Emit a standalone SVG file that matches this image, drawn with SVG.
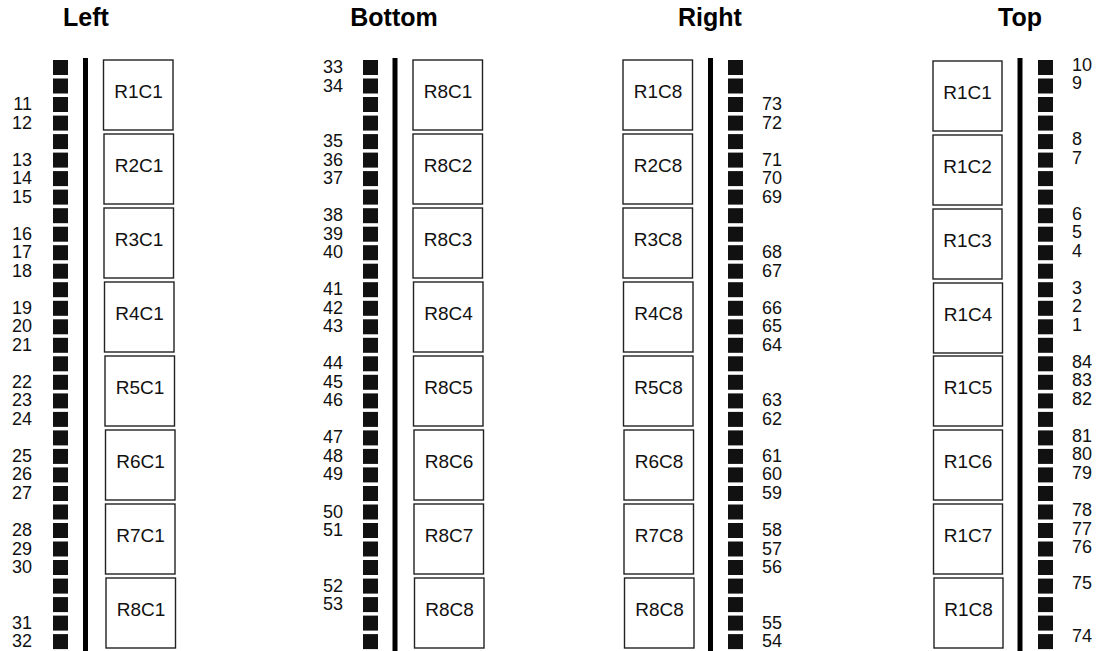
<svg xmlns="http://www.w3.org/2000/svg" xmlns:xlink="http://www.w3.org/1999/xlink" width="1102" height="651" viewBox="0 0 1102 651">
<style>
.title{font-family:"Liberation Sans",Arial,sans-serif;font-weight:bold;font-size:25px;fill:#000;text-anchor:middle}
.box{fill:#fff;stroke:#222;stroke-width:1.4}
.bl{font-family:"Liberation Sans",Arial,sans-serif;font-size:19px;fill:#111;text-anchor:middle}
.num{font-family:"Liberation Sans",Arial,sans-serif;font-size:18px;fill:#111}
.e{text-anchor:end}
.s{text-anchor:start}
.bar{fill:#000}
.sq{fill:#111}
</style>
<defs>
<g id="col" class="sq">
<rect x="0" y="60" width="15" height="15"/>
<rect x="0" y="78.5" width="15" height="15"/>
<rect x="0" y="97" width="15" height="15"/>
<rect x="0" y="115.6" width="15" height="15"/>
<rect x="0" y="134.1" width="15" height="15"/>
<rect x="0" y="152.6" width="15" height="15"/>
<rect x="0" y="171.1" width="15" height="15"/>
<rect x="0" y="189.6" width="15" height="15"/>
<rect x="0" y="208.2" width="15" height="15"/>
<rect x="0" y="226.7" width="15" height="15"/>
<rect x="0" y="245.2" width="15" height="15"/>
<rect x="0" y="263.7" width="15" height="15"/>
<rect x="0" y="282.2" width="15" height="15"/>
<rect x="0" y="300.8" width="15" height="15"/>
<rect x="0" y="319.3" width="15" height="15"/>
<rect x="0" y="337.8" width="15" height="15"/>
<rect x="0" y="356.3" width="15" height="15"/>
<rect x="0" y="374.8" width="15" height="15"/>
<rect x="0" y="393.4" width="15" height="15"/>
<rect x="0" y="411.9" width="15" height="15"/>
<rect x="0" y="430.4" width="15" height="15"/>
<rect x="0" y="448.9" width="15" height="15"/>
<rect x="0" y="467.4" width="15" height="15"/>
<rect x="0" y="486" width="15" height="15"/>
<rect x="0" y="504.5" width="15" height="15"/>
<rect x="0" y="523" width="15" height="15"/>
<rect x="0" y="541.5" width="15" height="15"/>
<rect x="0" y="560" width="15" height="15"/>
<rect x="0" y="578.6" width="15" height="15"/>
<rect x="0" y="597.1" width="15" height="15"/>
<rect x="0" y="615.6" width="15" height="15"/>
<rect x="0" y="634.1" width="15" height="15"/>
</g>
</defs>
<rect width="1102" height="651" fill="#fff"/>

<g id="panel-left">
<text class="title" x="86" y="26">Left</text>
<use href="#col" xlink:href="#col" x="53"/>
<rect class="bar" x="83" y="58" width="5" height="593"/>
<g id="left-R1C1"><rect class="box" x="103.5" y="60" width="69.5" height="70"/><text class="bl" x="138.5" y="98">R1C1</text></g>
<g id="left-R2C1"><rect class="box" x="104" y="134" width="69.5" height="70"/><text class="bl" x="139" y="172">R2C1</text></g>
<g id="left-R3C1"><rect class="box" x="104" y="208" width="69.5" height="70"/><text class="bl" x="139" y="246">R3C1</text></g>
<g id="left-R4C1"><rect class="box" x="104.5" y="282" width="69.5" height="70"/><text class="bl" x="139.5" y="320">R4C1</text></g>
<g id="left-R5C1"><rect class="box" x="105" y="356" width="69.5" height="70"/><text class="bl" x="140" y="394">R5C1</text></g>
<g id="left-R6C1"><rect class="box" x="105.5" y="430" width="69.5" height="70"/><text class="bl" x="140.5" y="468">R6C1</text></g>
<g id="left-R7C1"><rect class="box" x="105.5" y="504" width="69.5" height="70"/><text class="bl" x="140.5" y="542">R7C1</text></g>
<g id="left-R8C1"><rect class="box" x="106" y="578" width="69.5" height="70"/><text class="bl" x="141" y="616">R8C1</text></g>
<g class="num e">
<text x="32" y="110">11</text>
<text x="32" y="128.6">12</text>
<text x="32" y="165.6">13</text>
<text x="32" y="184.1">14</text>
<text x="32" y="202.6">15</text>
<text x="32" y="239.7">16</text>
<text x="32" y="258.2">17</text>
<text x="32" y="276.7">18</text>
<text x="32" y="313.8">19</text>
<text x="32" y="332.3">20</text>
<text x="32" y="350.8">21</text>
<text x="32" y="387.8">22</text>
<text x="32" y="406.4">23</text>
<text x="32" y="424.9">24</text>
<text x="32" y="461.9">25</text>
<text x="32" y="480.4">26</text>
<text x="32" y="499">27</text>
<text x="32" y="536">28</text>
<text x="32" y="554.5">29</text>
<text x="32" y="573">30</text>
<text x="32" y="628.6">31</text>
<text x="32" y="647">32</text>
</g>
</g>

<g id="panel-bottom">
<text class="title" x="394" y="26">Bottom</text>
<use href="#col" xlink:href="#col" x="363"/>
<rect class="bar" x="392.5" y="58" width="5" height="593"/>
<g id="bottom-R8C1"><rect class="box" x="413" y="60" width="69.5" height="70"/><text class="bl" x="448" y="98">R8C1</text></g>
<g id="bottom-R8C2"><rect class="box" x="413" y="134" width="69.5" height="70"/><text class="bl" x="448" y="172">R8C2</text></g>
<g id="bottom-R8C3"><rect class="box" x="413" y="208" width="69.5" height="70"/><text class="bl" x="448" y="246">R8C3</text></g>
<g id="bottom-R8C4"><rect class="box" x="413.5" y="282" width="69.5" height="70"/><text class="bl" x="448.5" y="320">R8C4</text></g>
<g id="bottom-R8C5"><rect class="box" x="413.5" y="356" width="69.5" height="70"/><text class="bl" x="448.5" y="394">R8C5</text></g>
<g id="bottom-R8C6"><rect class="box" x="414" y="430" width="69.5" height="70"/><text class="bl" x="449" y="468">R8C6</text></g>
<g id="bottom-R8C7"><rect class="box" x="414" y="504" width="69.5" height="70"/><text class="bl" x="449" y="542">R8C7</text></g>
<g id="bottom-R8C8"><rect class="box" x="414.5" y="578" width="69.5" height="70"/><text class="bl" x="449.5" y="616">R8C8</text></g>
<g class="num e">
<text x="343" y="73">33</text>
<text x="343" y="91.5">34</text>
<text x="343" y="147.1">35</text>
<text x="343" y="165.6">36</text>
<text x="343" y="184.1">37</text>
<text x="343" y="221.2">38</text>
<text x="343" y="239.7">39</text>
<text x="343" y="258.2">40</text>
<text x="343" y="295.2">41</text>
<text x="343" y="313.8">42</text>
<text x="343" y="332.3">43</text>
<text x="343" y="369.3">44</text>
<text x="343" y="387.8">45</text>
<text x="343" y="406.4">46</text>
<text x="343" y="443.4">47</text>
<text x="343" y="461.9">48</text>
<text x="343" y="480.4">49</text>
<text x="343" y="517.5">50</text>
<text x="343" y="536">51</text>
<text x="343" y="591.6">52</text>
<text x="343" y="610.1">53</text>
</g>
</g>

<g id="panel-right">
<text class="title" x="710" y="26">Right</text>
<use href="#col" xlink:href="#col" x="728"/>
<rect class="bar" x="708" y="58" width="5" height="593"/>
<g id="right-R1C8"><rect class="box" x="623" y="60" width="69.5" height="70"/><text class="bl" x="658" y="98">R1C8</text></g>
<g id="right-R2C8"><rect class="box" x="623" y="134" width="69.5" height="70"/><text class="bl" x="658" y="172">R2C8</text></g>
<g id="right-R3C8"><rect class="box" x="623" y="208" width="69.5" height="70"/><text class="bl" x="658" y="246">R3C8</text></g>
<g id="right-R4C8"><rect class="box" x="623.5" y="282" width="69.5" height="70"/><text class="bl" x="658.5" y="320">R4C8</text></g>
<g id="right-R5C8"><rect class="box" x="623.5" y="356" width="69.5" height="70"/><text class="bl" x="658.5" y="394">R5C8</text></g>
<g id="right-R6C8"><rect class="box" x="624" y="430" width="69.5" height="70"/><text class="bl" x="659" y="468">R6C8</text></g>
<g id="right-R7C8"><rect class="box" x="624" y="504" width="69.5" height="70"/><text class="bl" x="659" y="542">R7C8</text></g>
<g id="right-R8C8"><rect class="box" x="624.5" y="578" width="69.5" height="70"/><text class="bl" x="659.5" y="616">R8C8</text></g>
<g class="num s">
<text x="762" y="110">73</text>
<text x="762" y="128.6">72</text>
<text x="762" y="165.6">71</text>
<text x="762" y="184.1">70</text>
<text x="762" y="202.6">69</text>
<text x="762" y="258.2">68</text>
<text x="762" y="276.7">67</text>
<text x="762" y="313.8">66</text>
<text x="762" y="332.3">65</text>
<text x="762" y="350.8">64</text>
<text x="762" y="406.4">63</text>
<text x="762" y="424.9">62</text>
<text x="762" y="461.9">61</text>
<text x="762" y="480.4">60</text>
<text x="762" y="499">59</text>
<text x="762" y="536">58</text>
<text x="762" y="554.5">57</text>
<text x="762" y="573">56</text>
<text x="762" y="628.6">55</text>
<text x="762" y="647">54</text>
</g>
</g>

<g id="panel-top">
<text class="title" x="1020" y="26">Top</text>
<use href="#col" xlink:href="#col" x="1038"/>
<rect class="bar" x="1017.5" y="58" width="5" height="593"/>
<g id="top-R1C1"><rect class="box" x="933" y="61" width="69" height="70"/><text class="bl" x="967.5" y="99">R1C1</text></g>
<g id="top-R1C2"><rect class="box" x="933" y="135" width="69" height="70"/><text class="bl" x="967.5" y="173">R1C2</text></g>
<g id="top-R1C3"><rect class="box" x="933" y="209" width="69" height="70"/><text class="bl" x="967.5" y="247">R1C3</text></g>
<g id="top-R1C4"><rect class="box" x="933.5" y="283" width="69" height="70"/><text class="bl" x="968" y="321">R1C4</text></g>
<g id="top-R1C5"><rect class="box" x="933.5" y="356" width="69" height="70"/><text class="bl" x="968" y="394">R1C5</text></g>
<g id="top-R1C6"><rect class="box" x="933.5" y="430" width="69" height="70"/><text class="bl" x="968" y="468">R1C6</text></g>
<g id="top-R1C7"><rect class="box" x="933.5" y="504" width="69" height="70"/><text class="bl" x="968" y="542">R1C7</text></g>
<g id="top-R1C8"><rect class="box" x="934" y="578" width="69" height="70"/><text class="bl" x="968.5" y="616">R1C8</text></g>
<g class="num s">
<text x="1072" y="70.5">10</text>
<text x="1072" y="89">9</text>
<text x="1072" y="145">8</text>
<text x="1072" y="163.5">7</text>
<text x="1072" y="219.7">6</text>
<text x="1072" y="238.2">5</text>
<text x="1072" y="256.7">4</text>
<text x="1072" y="293.7">3</text>
<text x="1072" y="312.2">2</text>
<text x="1072" y="330.8">1</text>
<text x="1072" y="367.8">84</text>
<text x="1072" y="386.3">83</text>
<text x="1072" y="404.8">82</text>
<text x="1072" y="441.9">81</text>
<text x="1072" y="460.4">80</text>
<text x="1072" y="478.9">79</text>
<text x="1072" y="516">78</text>
<text x="1072" y="534.5">77</text>
<text x="1072" y="553">76</text>
<text x="1072" y="589">75</text>
<text x="1072" y="642">74</text>
</g>
</g>
</svg>
